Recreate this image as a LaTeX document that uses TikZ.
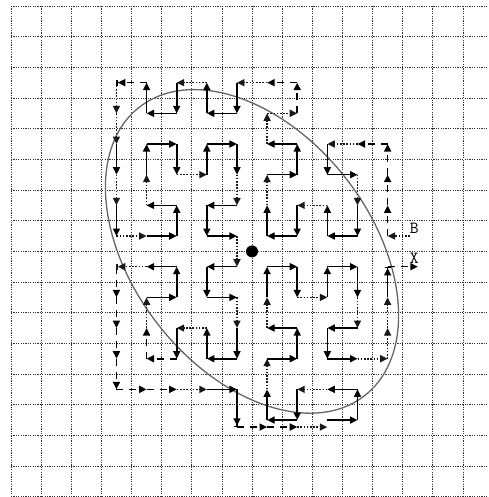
\documentclass[tikz,border=0pt]{standalone}
\usetikzlibrary{arrows.meta}
\tikzset{
  gridline/.style={line width=0.8pt, black!80, dash pattern=on 1.2pt off 1.2pt},
  tipA/.style={-{Triangle[length=7.5pt,width=7pt]}},
  tipB/.style={-{Triangle[length=7.5pt,width=7pt]Bar[width=6pt,line width=1.3pt]}},
  solidseg/.style={tipA, line width=1.6pt, black},
  dotseg/.style={tipA, line width=1.6pt, black!90, dash pattern=on 1.6pt off 1.6pt},
  dashseg/.style={tipA, line width=1.6pt, black, dash pattern=on 7pt off 6pt},
  ellstyle/.style={line width=1.3pt, black!60},
  lbl/.style={inner sep=0pt, font=\ttfamily\fontsize{17}{17}\selectfont}
}
\begin{document}
\begin{tikzpicture}[x=1pt,y=-1pt]
\useasboundingbox (0,0) rectangle (488,497);
% grid
\foreach \k in {0,...,15}
  \draw[gridline] ({11+30.13*\k},6) -- ({11+30.13*\k},497);
\foreach \k in {0,...,16}
  \draw[gridline] (11,{6+30.67*\k}) -- (488,{6+30.67*\k});
% cell centres
\foreach \c in {0,...,15}
  \foreach \r in {0,...,15}
    \coordinate (p-\c-\r) at ({11+30.13*(\c+0.5)},{6+30.67*(\r+0.5)});
% offset bottom track
\foreach \c in {7,8,9,10}
  \coordinate (q-\c) at ([yshift=-7pt]p-\c-13);
% ellipse and centre dot
\node[circle, fill=black, inner sep=0pt, minimum size=12pt] (dot) at (252,251.4) {};
\draw[ellstyle, rotate around={-52:(dot.center)}] (dot.center) ellipse [x radius=183pt, y radius=119pt];
% labels
\node[lbl] (B) at (414.3,228.3) {B};
\node[lbl] (X) at (414.3,258.3) {X};
% solid segments
\foreach \a/\b in {10-4/10-5, 10-5/11-5, 11-6/11-7, 11-7/10-7, 10-7/10-6, 9-6/9-7, 9-7/8-7, 8-7/8-6,
  8-5/9-5, 9-5/9-4, 9-4/8-4, 7-2/7-3, 7-3/6-3, 6-3/6-2, 5-2/5-3, 5-3/4-3, 4-3/4-2, 3-4/3-5,
  3-6/3-7, 4-7/5-7, 5-7/5-6, 5-6/4-6, 4-5/4-4, 4-4/5-4, 5-4/5-5, 6-5/6-4, 6-4/7-4, 7-4/7-5,
  7-6/6-6, 6-6/6-7, 6-7/7-7, 7-8/6-8, 6-8/6-9, 6-9/7-9, 7-10/7-11, 7-11/6-11, 6-11/6-10,
  5-10/5-11, 4-9/5-9, 5-9/5-8, 5-8/4-8, 6-12/7-12, 10-13/11-13, 11-13/11-12, 11-12/10-12,
  9-12/9-13, 9-13/8-13, 8-13/8-12, 8-11/9-11, 9-11/9-10, 9-10/8-10, 8-9/8-8, 8-8/9-8, 9-8/9-9,
  10-9/10-8, 10-8/11-8, 11-8/11-9, 11-10/10-10, 10-10/10-11, 10-11/11-11}
  \draw[solidseg] (p-\a) -- (p-\b);
% dotted segments
\foreach \a/\b in {11-4/10-4, 11-5/11-6, 10-6/9-6, 8-6/8-5, 8-4/8-3, 8-3/9-3, 8-2/7-2, 6-2/5-2,
  3-2/3-3, 3-3/3-4, 3-5/3-6, 3-7/4-7, 4-6/4-5, 5-5/6-5, 7-5/7-6, 7-7/7-8, 7-9/7-10, 6-10/5-10,
  4-10/4-9, 5-12/6-12, 10-12/9-12, 8-12/8-11, 8-10/8-9, 9-9/10-9, 11-9/11-10, 11-11/12-11,
  12-11/12-10, 12-10/12-9}
  \draw[dotseg] (p-\a) -- (p-\b);
% dashed segments
\foreach \a/\b in {12-7/12-6, 12-6/12-5, 12-5/12-4, 12-4/11-4, 9-3/9-2, 9-2/8-2, 5-11/4-11,
  4-11/4-10, 3-8/3-9, 3-9/3-10, 3-10/3-11, 3-11/3-12, 3-12/4-12, 4-12/5-12, 12-8/13-8}
  \draw[dashseg] (p-\a) -- (p-\b);
% start at B, bottom track
\draw[dotseg, shorten <=8pt] (p-13-7) -- (p-12-7);
\draw[dashseg] (q-7) -- (q-8);
\draw[dashseg] (q-8) -- (q-9);
\draw[dotseg] (q-9) -- (q-10);
% segments ending with a bar
\draw[dashseg, tipB] (p-4-2) -- (p-3-2);
\draw[dotseg, tipB] (p-4-8) -- (p-3-8);
\draw[solidseg, tipB] (p-7-12) -- (q-7);
\draw[solidseg, tipB] (p-12-9) -- (p-12-8);
\end{tikzpicture}
\end{document}
